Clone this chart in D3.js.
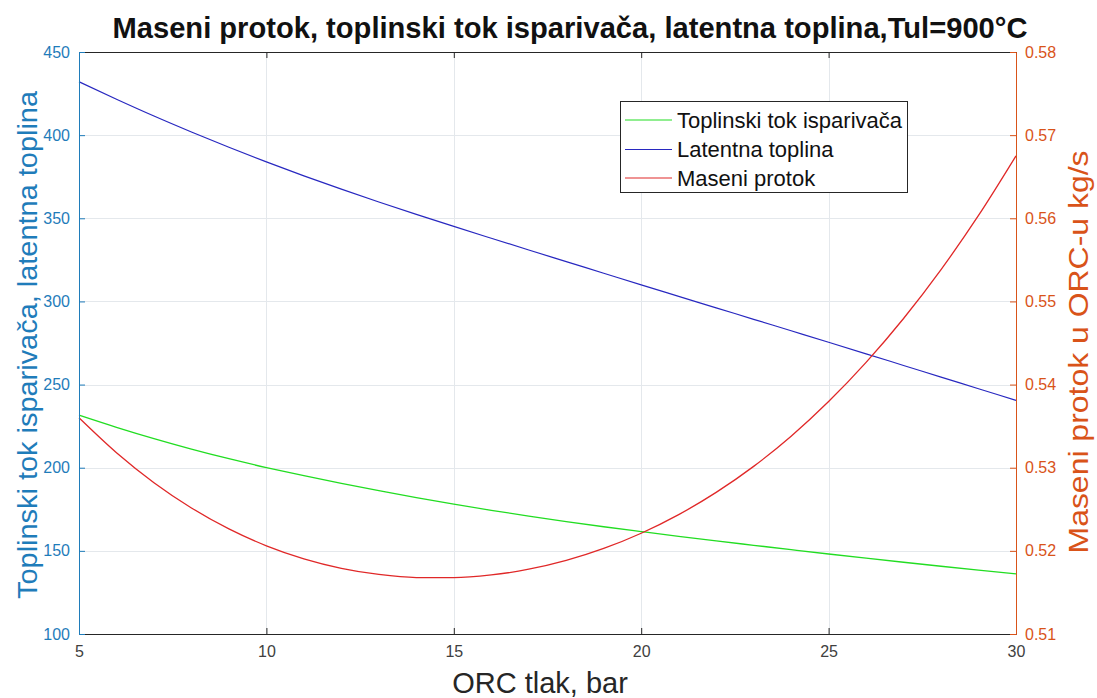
<!DOCTYPE html>
<html>
<head>
<meta charset="utf-8">
<script src="https://cdn.jsdelivr.net/npm/d3@7"></script>
<style>
  html, body { margin: 0; padding: 0; background: #ffffff; }
  svg { display: block; font-family: Arial, "Liberation Sans", sans-serif; }
</style>
</head>
<body>
<svg id="chart" width="1097" height="698"></svg>
<script>
// ---------- data ----------
const pressure = [5, 6, 7, 8, 9, 10, 11, 12, 13, 14, 15, 16, 17, 18, 19, 20, 21, 22, 23, 24, 25, 26, 27, 28, 29, 30];
const toplinskiTok = [231.6, 224.3, 217.5, 211.2, 205.4, 200.1, 195.2, 190.6, 186.2, 182.0, 178.1, 174.4, 170.9, 167.6, 164.5, 161.6, 158.75, 156.0, 153.35, 150.7, 148.1, 145.6, 143.15, 140.75, 138.4, 136.1];
const latentnaToplina = [432.1, 421.6, 411.5, 401.9, 392.7, 383.9, 375.5, 367.5, 359.8, 352.35, 345.1, 338.0, 330.95, 323.95, 316.95, 309.95, 303.05, 296.15, 289.25, 282.35, 275.45, 268.5, 261.5, 254.5, 247.5, 240.5];
const maseniProtok = [0.53600, 0.53180, 0.52820, 0.52516, 0.52264, 0.52061, 0.51904, 0.51790, 0.51716, 0.51679, 0.51677, 0.51710, 0.51779, 0.51885, 0.52029, 0.52212, 0.52436, 0.52703, 0.53016, 0.53379, 0.53796, 0.54267, 0.54795, 0.55383, 0.56034, 0.56751];
const xTicks = [5, 10, 15, 20, 25, 30];
const leftTicks = [100, 150, 200, 250, 300, 350, 400, 450];
const rightTicks = [0.51, 0.52, 0.53, 0.54, 0.55, 0.56, 0.57, 0.58];
const rightTickLabels = ["0.51", "0.52", "0.53", "0.54", "0.55", "0.56", "0.57", "0.58"];
const legendNames = ["Toplinski tok isparivača", "Latentna toplina", "Maseni protok"];
const titleText = "Maseni protok, toplinski tok isparivača, latentna toplina,Tul=900°C";
const xLabel = "ORC tlak, bar";
const leftLabel = "Toplinski tok isparivača, latentna toplina";
const rightLabel = "Maseni protok u ORC-u kg/s";

// ---------- layout ----------
const L = 79, R = 1016, T = 52, B = 634;
const leftColor = "#1f7cba", rightColor = "#d95319";
const axisDark = "#262626", gridColor = "#e4e8ec";
const colGreen = "#22dd22", colBlue = "#2828c0", colRed = "#e02828";
const FONT = "Arial, 'Liberation Sans', sans-serif";

const svg = d3.select("#chart");
const x = d3.scaleLinear().domain([5, 30]).range([L, R]);
const yL = d3.scaleLinear().domain([100, 450]).range([B, T]);
const yR = d3.scaleLinear().domain([0.51, 0.58]).range([B, T]);

// grid
const grid = svg.append("g");
grid.selectAll("line.vg").data(xTicks.slice(1, -1)).join("line")
  .attr("x1", d => Math.round(x(d)) + 0.5).attr("x2", d => Math.round(x(d)) + 0.5)
  .attr("y1", T).attr("y2", B).attr("stroke", gridColor).attr("stroke-width", 1);
grid.selectAll("line.hg").data(leftTicks.slice(1, -1)).join("line")
  .attr("x1", L).attr("x2", R)
  .attr("y1", d => Math.round(yL(d)) + 0.5).attr("y2", d => Math.round(yL(d)) + 0.5)
  .attr("stroke", gridColor).attr("stroke-width", 1);

// lines
const lineL = d3.line().x((d, i) => x(pressure[i])).y(d => yL(d)).curve(d3.curveMonotoneX);
const lineR = d3.line().x((d, i) => x(pressure[i])).y(d => yR(d)).curve(d3.curveMonotoneX);
svg.append("path").attr("d", lineL(toplinskiTok)).attr("fill", "none").attr("stroke", colGreen).attr("stroke-width", 1.3);
svg.append("path").attr("d", lineL(latentnaToplina)).attr("fill", "none").attr("stroke", colBlue).attr("stroke-width", 1.2);
svg.append("path").attr("d", lineR(maseniProtok)).attr("fill", "none").attr("stroke", colRed).attr("stroke-width", 1.3);

// axes
const xAxisB = d3.axisBottom(x).tickValues(xTicks).tickSize(-6).tickPadding(12).tickFormat(d3.format("d"));
const gxb = svg.append("g").attr("transform", `translate(0,${B})`).call(xAxisB);
gxb.select(".domain").attr("stroke", axisDark);
gxb.selectAll(".tick line").attr("stroke", axisDark);
gxb.selectAll("text").attr("fill", "#404040").attr("font-size", 16).attr("font-family", FONT);

const xAxisT = d3.axisTop(x).tickValues(xTicks).tickSize(-6).tickFormat("");
const gxt = svg.append("g").attr("transform", `translate(0,${T})`).call(xAxisT);
gxt.select(".domain").attr("stroke", axisDark);
gxt.selectAll(".tick line").attr("stroke", axisDark);

const yAxisL = d3.axisLeft(yL).tickValues(leftTicks).tickSize(-6).tickPadding(9).tickFormat(d3.format("d"));
const gyl = svg.append("g").attr("transform", `translate(${L},0)`).call(yAxisL);
gyl.select(".domain").attr("stroke", leftColor);
gyl.selectAll(".tick line").attr("stroke", leftColor);
gyl.selectAll("text").attr("fill", leftColor).attr("font-size", 16).attr("font-family", FONT);

const yAxisR = d3.axisRight(yR).tickValues(rightTicks).tickSize(-6).tickPadding(9).tickFormat((d, i) => rightTickLabels[i]);
const gyr = svg.append("g").attr("transform", `translate(${R},0)`).call(yAxisR);
gyr.select(".domain").attr("stroke", rightColor);
gyr.selectAll(".tick line").attr("stroke", rightColor);
gyr.selectAll("text").attr("fill", rightColor).attr("font-size", 16).attr("font-family", FONT);

// title
svg.append("text").attr("x", 570).attr("y", 38).attr("text-anchor", "middle")
  .attr("font-size", 30).attr("font-weight", "bold").attr("fill", "#111")
  .attr("textLength", 915).attr("lengthAdjust", "spacingAndGlyphs")
  .text(titleText);

// axis labels
svg.append("text").attr("x", 540).attr("y", 693).attr("text-anchor", "middle")
  .attr("font-size", 29).attr("fill", "#262626").text(xLabel);
svg.append("text").attr("transform", `translate(37,345) rotate(-90)`)
  .attr("text-anchor", "middle").attr("font-size", 27).attr("fill", leftColor)
  .attr("textLength", 508).attr("lengthAdjust", "spacingAndGlyphs")
  .text(leftLabel);
svg.append("text").attr("transform", `translate(1088,352) rotate(-90)`)
  .attr("text-anchor", "middle").attr("font-size", 28).attr("fill", rightColor)
  .attr("textLength", 403).attr("lengthAdjust", "spacingAndGlyphs")
  .text(rightLabel);

// legend
const lg = svg.append("g");
lg.append("rect").attr("x", 620.5).attr("y", 101.5).attr("width", 287).attr("height", 91)
  .attr("fill", "#fff").attr("stroke", axisDark).attr("stroke-width", 1);
const legendColors = [colGreen, colBlue, colRed];
const rowY = [120, 149.5, 178];
legendNames.forEach((name, i) => {
  lg.append("line").attr("x1", 625).attr("x2", 672).attr("y1", rowY[i]).attr("y2", rowY[i])
    .attr("stroke", legendColors[i]).attr("stroke-width", 1.2);
  lg.append("text").attr("x", 677).attr("y", rowY[i]).attr("dy", "0.35em")
    .attr("font-size", 22).attr("fill", "#111").text(name);
});
</script>
</body>
</html>
